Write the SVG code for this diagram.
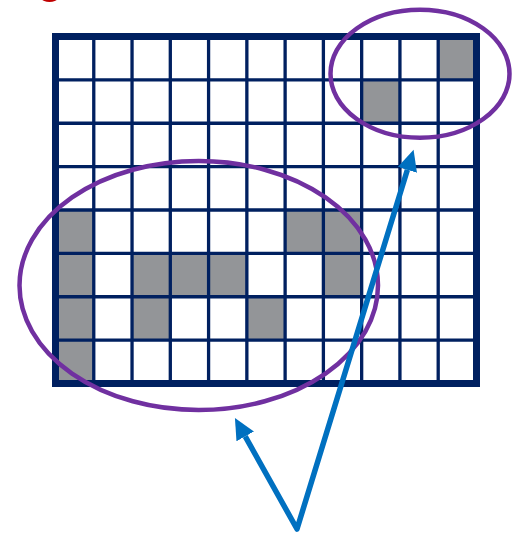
<svg xmlns="http://www.w3.org/2000/svg" width="513" height="542" viewBox="0 0 513 542">
  <style>
    .cell { fill: #939598; }
    .grid { fill: none; stroke: #002060; stroke-width: 3.3; }
    .border { fill: none; stroke: #002060; stroke-width: 7; }
    .ring { fill: none; stroke: #7030a0; stroke-width: 4.5; }
    .arrow { fill: none; stroke: #0070c0; stroke-width: 5.5; stroke-linejoin: round; }
  </style>
  <defs>
    <marker id="head" markerUnits="userSpaceOnUse" markerWidth="22" markerHeight="21" refX="0" refY="10" orient="auto-start-reverse">
      <path d="M0,0 L21,10 L0,20 Z" fill="#0070c0"/>
    </marker>
  </defs>
  <rect width="513" height="542" fill="#ffffff"/>
  <ellipse id="mark" cx="49.5" cy="-1" rx="7.5" ry="3" fill="#c00000"/>
  <g id="grid">
    <g id="cells">
      <rect class="cell" x="438.2" y="36.5" width="38.27" height="43.375"/>
      <rect class="cell" x="361.66" y="79.875" width="38.27" height="43.375"/>
      <rect class="cell" x="55.5" y="210" width="38.27" height="43.375"/>
      <rect class="cell" x="285.12" y="210" width="76.54" height="43.375"/>
      <rect class="cell" x="55.5" y="253.375" width="38.27" height="43.375"/>
      <rect class="cell" x="132.04" y="253.375" width="114.81" height="43.375"/>
      <rect class="cell" x="323.39" y="253.375" width="38.27" height="43.375"/>
      <rect class="cell" x="55.5" y="296.75" width="38.27" height="43.375"/>
      <rect class="cell" x="132.04" y="296.75" width="38.27" height="43.375"/>
      <rect class="cell" x="246.85" y="296.75" width="38.27" height="43.375"/>
      <rect class="cell" x="55.5" y="340.125" width="38.27" height="43.375"/>
    </g>
    <path class="grid" d="M93.77,36.5V383.5 M132.04,36.5V383.5 M170.31,36.5V383.5 M208.58,36.5V383.5 M246.85,36.5V383.5 M285.12,36.5V383.5 M323.39,36.5V383.5 M361.66,36.5V383.5 M399.93,36.5V383.5 M438.2,36.5V383.5 M55.5,79.875H476.5 M55.5,123.25H476.5 M55.5,166.625H476.5 M55.5,210H476.5 M55.5,253.375H476.5 M55.5,296.75H476.5 M55.5,340.125H476.5"/>
    <rect class="border" x="55.5" y="36.5" width="421" height="347"/>
  </g>
  <ellipse id="ring-small" class="ring" cx="420" cy="73.75" rx="89.5" ry="64"/>
  <ellipse id="ring-large" class="ring" cx="198.75" cy="285.5" rx="179.25" ry="124.5"/>
  <g id="connectors">
    <path class="arrow" d="M245.2,436.4 L297,529 L407.4,169.8" marker-start="url(#head)" marker-end="url(#head)"/>
  </g>
</svg>
